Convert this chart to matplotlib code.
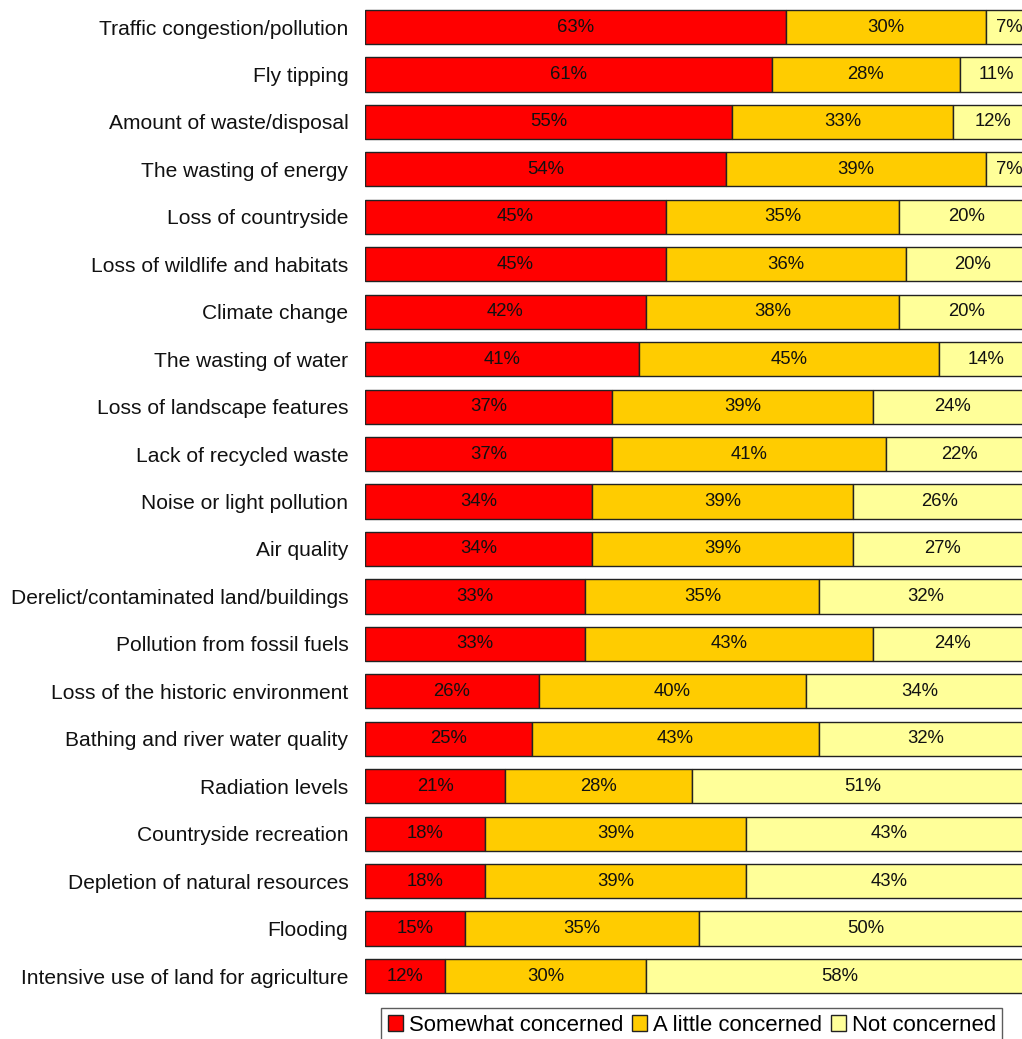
"""
Environmental concerns: stacked horizontal bars.
"""

import numpy as np
import matplotlib.pyplot as plt
from matplotlib.patches import Patch

categories = [
    "Traffic congestion/pollution",
    "Fly tipping",
    "Amount of waste/disposal",
    "The wasting of energy",
    "Loss of countryside",
    "Loss of wildlife and habitats",
    "Climate change",
    "The wasting of water",
    "Loss of landscape features",
    "Lack of recycled waste",
    "Noise or light pollution",
    "Air quality",
    "Derelict/contaminated land/buildings",
    "Pollution from fossil fuels",
    "Loss of the historic environment",
    "Bathing and river water quality",
    "Radiation levels",
    "Countryside recreation",
    "Depletion of natural resources",
    "Flooding",
    "Intensive use of land for agriculture",
]
somewhat = [63, 61, 55, 54, 45, 45, 42, 41, 37, 37, 34, 34, 33, 33, 26, 25, 21, 18, 18, 15, 12]
a_little = [30, 28, 33, 39, 35, 36, 38, 45, 39, 41, 39, 39, 35, 43, 40, 43, 28, 39, 39, 35, 30]
not_conc = [7, 11, 12, 7, 20, 20, 20, 14, 24, 22, 26, 27, 32, 24, 34, 32, 51, 43, 43, 50, 58]

series_names = ["Somewhat concerned", "A little concerned", "Not concerned"]
colors = ["#FF0000", "#FFCC00", "#FFFF99"]


def plot_concerns():
    plt.rcParams['font.family'] = ['Liberation Sans', 'DejaVu Sans']
    fig = plt.figure(figsize=(10.22, 10.39), dpi=100)
    ax = fig.add_axes([365 / 1022, 0.0378, 668 / 1022, 0.959])

    y = np.arange(len(categories))
    left = np.zeros(len(categories))
    for vals, col in zip([somewhat, a_little, not_conc], colors):
        vals = np.array(vals, dtype=float)
        ax.barh(y, vals, left=left, height=0.72, color=col,
                edgecolor='#222222', linewidth=1.0)
        for yi, l, v in zip(y, left, vals):
            ax.text(l + v / 2, yi, f"{int(v)}%", ha='center', va='center',
                    fontsize=13.3, color='#111111')
        left += vals

    ax.set_xlim(0, 100)
    ax.set_ylim(len(categories) - 0.5, -0.5)
    ax.set_yticks(y)
    ax.set_yticklabels(categories, fontsize=15.1, color='#111111')
    ax.tick_params(axis='y', length=0, pad=12)
    ax.set_xticks([])
    for s in ax.spines.values():
        s.set_visible(False)

    handles = [Patch(facecolor=c, edgecolor='#222222', linewidth=1.0) for c in colors]
    leg = fig.legend(handles, series_names, loc='upper left',
                     bbox_to_anchor=(381 / 1022, 0.0298), ncol=3, fontsize=15.9,
                     frameon=True, fancybox=False, edgecolor='#333333',
                     handlelength=0.7, handleheight=0.7, handletextpad=0.25,
                     columnspacing=0.4, borderpad=0.3, borderaxespad=0)
    leg.get_frame().set_linewidth(1.0)

    return fig


if __name__ == "__main__":
    fig = plot_concerns()
    fig.savefig("out.png", dpi=100)
